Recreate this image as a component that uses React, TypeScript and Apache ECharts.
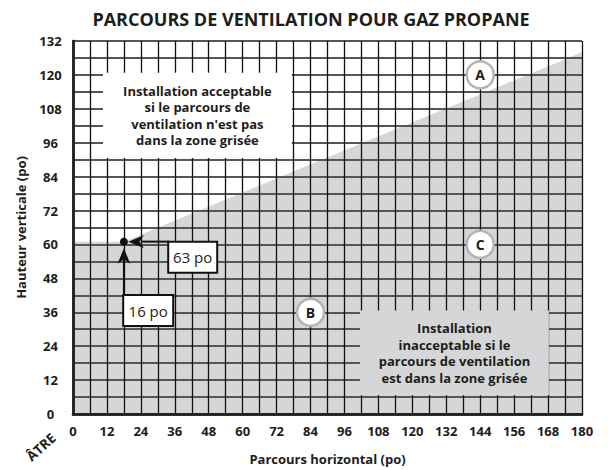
import React, { useEffect, useRef } from 'react';
import * as echarts from 'echarts';

// ---- data ----
const xTickLabels = [0, 12, 24, 36, 48, 60, 72, 84, 96, 108, 120, 132, 144, 156, 168, 180];
const yTickLabels = [0, 12, 24, 36, 48, 60, 72, 84, 96, 108, 120, 132];
const boundaryX = [0, 18, 180];
const boundaryY = [61, 61, 128];
const markerLabels = ['A', 'B', 'C'];
const markerX = [144, 84, 144];
const markerY = [120, 36, 60];
const pointX = [18];
const pointY = [61];
const pointLabels = ['63 po', '16 po'];
const acceptText = ['Installation acceptable', 'si le parcours de', "ventilation n'est pas", 'dans la zone grisée'];
const rejectText = ['Installation', 'inacceptable si le', 'parcours de ventilation', 'est dans la zone grisée'];
const acceptBox = [[10.6, 120.8], [77.4, 90.6]];
const rejectBox = [[101.5, 36.6], [168.3, 6.6]];
const titleText = 'PARCOURS DE VENTILATION POUR GAZ PROPANE';
const xName = 'Parcours horizontal (po)';
const yName = 'Hauteur verticale (po)';
const originLabel = 'ÂTRE';

const FONT = '"Open Sans", "DejaVu Sans", sans-serif';
const INK = '#1d1d1b';
const GRAY = '#d4d6d7';

export default function App() {
  const ref = useRef<HTMLDivElement>(null);
  useEffect(() => {
    if (!ref.current) return;
    const chart = echarts.init(ref.current, null, { renderer: 'svg' });
    const tickFmt = (list: number[]) => (v: number) => (list.indexOf(v) >= 0 ? String(v) : '');
    const boxLabel = (lines: string[]) => ({
      show: true, position: 'inside', formatter: lines.join('\n'),
      fontFamily: FONT, fontSize: 13, fontWeight: 'bold', lineHeight: 16.5, color: INK, align: 'center',
    });
    const option: any = {
      animation: false,
      backgroundColor: '#fff',
      title: {
        text: titleText,
        left: 306,
        textAlign: 'center',
        top: 5,
        textStyle: { fontFamily: FONT, fontSize: 18, fontWeight: 'bold', color: INK },
      },
      grid: { left: 73, right: 26, top: 41, bottom: 55 },
      xAxis: [
        {
          type: 'value', min: 0, max: 180, interval: 6, z: 3,
          name: xName, nameLocation: 'middle', nameGap: 38,
          nameTextStyle: { fontFamily: FONT, fontSize: 13, fontWeight: 'bold', color: INK },
          axisLine: { show: true, lineStyle: { color: '#222', width: 2.5 } },
          axisTick: { show: false },
          axisLabel: { formatter: tickFmt(xTickLabels), margin: 10, fontFamily: FONT, fontSize: 13, fontWeight: 'bold', color: INK, hideOverlap: false },
          splitLine: { show: true, lineStyle: { color: '#111', width: 1.3 } },
        },
        {
          type: 'value', min: 0, max: 180, position: 'top', z: 3,
          axisLine: { show: true, lineStyle: { color: '#222', width: 2.5 } },
          axisTick: { show: false }, axisLabel: { show: false }, splitLine: { show: false },
        },
      ],
      yAxis: [
        {
          type: 'value', min: 0, max: 132, interval: 6, z: 3,
          name: yName, nameLocation: 'middle', nameGap: 46, nameRotate: 90,
          nameTextStyle: { fontFamily: FONT, fontSize: 13, fontWeight: 'bold', color: INK },
          axisLine: { show: true, lineStyle: { color: '#222', width: 2.5 } },
          axisTick: { show: false },
          axisLabel: { formatter: tickFmt(yTickLabels), margin: 22.5, align: 'center', fontFamily: FONT, fontSize: 13, fontWeight: 'bold', color: INK },
          splitLine: { show: true, lineStyle: { color: '#555', width: 2 } },
        },
        {
          type: 'value', min: 0, max: 132, position: 'right', z: 3,
          axisLine: { show: true, lineStyle: { color: '#222', width: 2.5 } },
          axisTick: { show: false }, axisLabel: { show: false }, splitLine: { show: false },
        },
      ],
      graphic: [
        {
          type: 'text', x: 41, y: 447, rotation: Math.PI / 4.3,
          style: { text: originLabel, fontFamily: FONT, fontSize: 13.5, fontWeight: 'bold', fill: INK, align: 'center', verticalAlign: 'middle' },
        },
      ],
      series: [
        {
          type: 'line', z: 1,
          data: boundaryX.map((x, i) => [x, boundaryY[i]]),
          symbol: 'none',
          lineStyle: { width: 0, opacity: 0 },
          areaStyle: { color: GRAY, opacity: 1 },
          silent: true,
        },
        {
          type: 'line', z: 4, data: [], silent: true,
          markArea: {
            silent: true,
            z: 5,
            data: [
              [
                { coord: acceptBox[0], itemStyle: { color: '#fff', opacity: 1 }, label: boxLabel(acceptText) },
                { coord: acceptBox[1] },
              ],
              [
                { coord: rejectBox[0], itemStyle: { color: GRAY, opacity: 1 }, label: boxLabel(rejectText) },
                { coord: rejectBox[1] },
              ],
            ],
          },
        },
        {
          type: 'scatter', z: 6, silent: true,
          data: markerLabels.map((n, i) => ({ name: n, value: [markerX[i], markerY[i]] })),
          symbol: 'circle', symbolSize: 27,
          itemStyle: { color: '#fff', borderColor: '#b4b4b4', borderWidth: 2.5, opacity: 1 },
          label: { show: true, position: 'inside', formatter: (p: any) => p.name, fontFamily: FONT, fontSize: 14, fontWeight: 'bold', color: INK },
        },
        {
          type: 'custom', z: 7, silent: true,
          data: pointX.map((x, i) => [x, pointY[i]]),
          renderItem: (params: any, api: any) => {
            const p = api.coord([api.value(0), api.value(1)]);
            const x = p[0];
            const y = p[1];
            const s = '#111';
            return {
              type: 'group',
              children: [
                { type: 'line', shape: { x1: x, y1: y + 54, x2: x, y2: y + 17 }, style: { stroke: s, lineWidth: 2 } },
                { type: 'polygon', shape: { points: [[x, y + 6.5], [x - 6.3, y + 22], [x, y + 17.5], [x + 6.3, y + 22]] }, style: { fill: s } },
                { type: 'line', shape: { x1: x + 45, y1: y, x2: x + 17, y2: y }, style: { stroke: s, lineWidth: 2 } },
                { type: 'polygon', shape: { points: [[x + 4.3, y], [x + 20, y - 6.3], [x + 15.5, y], [x + 20, y + 6.3]] }, style: { fill: s } },
                { type: 'circle', shape: { cx: x, cy: y, r: 4 }, style: { fill: s } },
                { type: 'rect', shape: { x: x - 0.7, y: y + 53.3, width: 50, height: 31 }, style: { fill: '#fff', stroke: s, lineWidth: 2 } },
                { type: 'text', x: x + 24.3, y: y + 69, style: { text: pointLabels[1], fontFamily: FONT, fontSize: 15, fill: INK, align: 'center', verticalAlign: 'middle' } },
                { type: 'rect', shape: { x: x + 44.3, y: y, width: 49, height: 31 }, style: { fill: '#fff', stroke: s, lineWidth: 2 } },
                { type: 'text', x: x + 68.8, y: y + 15.7, style: { text: pointLabels[0], fontFamily: FONT, fontSize: 15, fill: INK, align: 'center', verticalAlign: 'middle' } },
              ],
            };
          },
        },
      ],
    };
    chart.setOption(option);
    return () => chart.dispose();
  }, []);
  return <div ref={ref} style={{ position: 'fixed', left: 0, top: 0, width: 608, height: 470, background: '#fff' }} />;
}
